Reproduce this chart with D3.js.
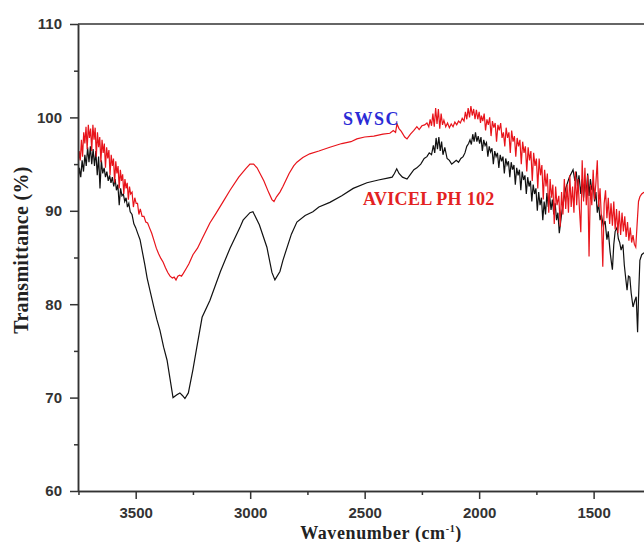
<!DOCTYPE html>
<html>
<head>
<meta charset="utf-8">
<script src="https://cdn.jsdelivr.net/npm/d3@7"></script>
<style>
  body { margin: 0; background: #fff; }
  .tick text { font-family: "Liberation Sans", Arial, sans-serif; font-weight: bold; font-size: 15px; fill: #333; }
  .axis path, .axis line { stroke: #333; stroke-width: 1.5; }
  .title { font-family: "Liberation Serif", "Times New Roman", serif; font-weight: bold; fill: #222; }
</style>
</head>
<body>
<div id="chart"></div>
<script>
// tick values
const xTicks = [3500, 3000, 2500, 2000, 1500];
const xMinorTicks = [3750, 3250, 2750, 2250, 1750];
const yTicks = [60, 70, 80, 90, 100, 110];
const yMinorTicks = [65, 75, 85, 95, 105];

// series labels
const seriesNames = ['SWSC', 'AVICEL PH 102'];

// [wavenumber, transmittance], upper (red) trace
const swscSpectrum = [
  [3752, 94.6], [3747, 96.4], [3742, 95.4], [3737, 97.6], [3732, 95.8], [3727, 98.4], [3722, 97.2], [3717, 99.0],
  [3712, 96.6], [3707, 99.2], [3702, 97.8], [3697, 98.8], [3692, 96.4], [3687, 99.2], [3682, 97.6], [3677, 98.9],
  [3672, 95.8], [3667, 98.4], [3662, 96.8], [3657, 97.9], [3652, 95.2], [3647, 97.6], [3642, 96.2], [3637, 97.2],
  [3632, 94.6], [3627, 96.8], [3622, 95.6], [3617, 96.5], [3612, 93.8], [3607, 96.0], [3602, 94.8], [3597, 95.6],
  [3592, 93.0], [3587, 95.3], [3582, 94.0], [3577, 94.8], [3572, 92.4], [3567, 94.4], [3562, 93.2], [3557, 93.9],
  [3552, 91.8], [3547, 93.4], [3542, 92.4], [3537, 93.0], [3532, 91.2], [3527, 92.6], [3522, 91.8], [3516, 92.0],
  [3510, 90.4], [3504, 91.4], [3498, 90.8], [3492, 90.8], [3486, 89.6], [3480, 90.2], [3472, 89.4], [3464, 89.4],
  [3456, 88.8], [3448, 88.7], [3440, 88.2], [3430, 87.6], [3420, 86.8], [3410, 86.0], [3400, 85.4], [3390, 84.9],
  [3380, 84.5], [3370, 83.9], [3360, 83.4], [3350, 83.0], [3340, 82.8], [3332, 82.9], [3324, 82.6], [3316, 83.0],
  [3308, 83.1], [3300, 83.0], [3292, 83.3], [3280, 83.8], [3268, 84.3], [3250, 85.3], [3230, 86.0], [3210, 87.0],
  [3176, 88.7], [3150, 89.7], [3120, 90.9], [3088, 92.2], [3050, 93.6], [3020, 94.5], [3001, 95.0], [2985, 95.0],
  [2970, 94.6], [2957, 94.0], [2940, 93.2], [2920, 92.0], [2905, 91.2], [2896, 91.0], [2885, 91.5], [2870, 92.0],
  [2857, 92.6], [2830, 94.0], [2810, 94.8], [2796, 95.2], [2770, 95.7], [2740, 96.1], [2700, 96.4], [2652, 96.8],
  [2600, 97.2], [2560, 97.4], [2534, 97.7], [2500, 97.9], [2460, 98.0], [2420, 98.2], [2390, 98.3], [2375, 98.6],
  [2365, 98.4], [2359, 99.3], [2350, 98.8], [2340, 98.5], [2325, 97.9], [2315, 97.7], [2300, 98.2], [2285, 98.6],
  [2272, 99.0], [2262, 98.7], [2250, 99.1], [2238, 99.2], [2228, 99.4], [2220, 99.0], [2214, 99.8], [2208, 99.1],
  [2202, 100.4], [2196, 99.0], [2190, 101.0], [2184, 99.3], [2178, 100.9], [2172, 98.8], [2166, 100.4], [2160, 99.2],
  [2154, 99.7], [2146, 99.0], [2138, 99.4], [2130, 98.9], [2122, 99.3], [2114, 99.0], [2106, 99.5], [2098, 99.2],
  [2090, 99.6], [2082, 99.4], [2074, 99.9], [2066, 99.6], [2060, 100.6], [2054, 99.8], [2048, 101.0], [2042, 100.0],
  [2036, 101.2], [2030, 100.2], [2024, 100.9], [2018, 99.8], [2012, 100.8], [2006, 99.8], [2000, 100.6], [1994, 99.4],
  [1990, 100.2], [1984, 99.6], [1978, 100.4], [1972, 98.6], [1966, 99.8], [1960, 99.2], [1954, 100.0], [1948, 98.0],
  [1942, 99.6], [1936, 98.9], [1930, 99.4], [1924, 97.4], [1918, 99.2], [1912, 98.6], [1906, 99.4], [1900, 97.8],
  [1894, 98.4], [1888, 96.9], [1882, 98.9], [1876, 97.8], [1870, 98.4], [1864, 96.2], [1858, 98.6], [1852, 97.4],
  [1846, 98.0], [1840, 95.8], [1834, 97.8], [1828, 96.9], [1822, 97.6], [1816, 95.0], [1810, 97.4], [1804, 96.2],
  [1798, 96.9], [1792, 94.2], [1786, 96.8], [1780, 95.4], [1774, 96.4], [1768, 93.2], [1762, 96.2], [1756, 94.8],
  [1750, 95.6], [1744, 92.4], [1738, 95.6], [1732, 93.8], [1726, 94.9], [1720, 91.2], [1714, 94.4], [1708, 92.6],
  [1702, 94.0], [1696, 89.8], [1690, 93.4], [1684, 91.4], [1678, 92.8], [1672, 88.6], [1666, 92.6], [1660, 90.6],
  [1652, 91.6], [1646, 88.3], [1640, 92.0], [1634, 89.6], [1628, 93.4], [1622, 90.2], [1616, 92.8], [1610, 89.8],
  [1604, 93.8], [1598, 90.4], [1592, 92.6], [1586, 89.8], [1580, 94.2], [1574, 90.6], [1568, 93.4], [1562, 90.2],
  [1556, 87.7], [1550, 95.4], [1544, 91.0], [1538, 94.6], [1532, 90.6], [1526, 93.8], [1520, 85.1], [1514, 92.8],
  [1508, 90.6], [1502, 94.4], [1496, 91.2], [1490, 93.0], [1484, 95.4], [1478, 90.4], [1472, 92.4], [1466, 89.2],
  [1460, 84.0], [1454, 90.8], [1448, 92.2], [1442, 89.2], [1436, 91.4], [1430, 88.6], [1424, 90.8], [1418, 88.4],
  [1412, 91.0], [1406, 88.0], [1400, 90.2], [1394, 87.6], [1388, 90.0], [1382, 87.4], [1376, 89.8], [1370, 87.8],
  [1364, 89.4], [1358, 87.2], [1352, 88.8], [1346, 86.8], [1340, 88.2], [1334, 86.6], [1328, 87.4], [1322, 86.4],
  [1316, 86.1], [1310, 88.6], [1304, 91.0], [1298, 91.5], [1290, 91.8], [1280, 92.0]
];

// lower (black) trace
const avicelSpectrum = [
  [3752, 93.0], [3746, 94.6], [3740, 93.6], [3734, 95.4], [3728, 94.2], [3722, 96.0], [3716, 94.8], [3710, 96.8],
  [3704, 95.2], [3698, 96.9], [3692, 95.0], [3686, 96.6], [3680, 94.8], [3674, 96.4], [3668, 93.8], [3662, 95.8],
  [3656, 92.4], [3650, 95.4], [3644, 94.0], [3638, 94.6], [3632, 93.6], [3626, 94.2], [3620, 93.2], [3614, 93.8],
  [3608, 93.0], [3602, 93.6], [3596, 92.6], [3590, 93.4], [3584, 92.2], [3578, 92.8], [3572, 90.6], [3566, 92.4],
  [3560, 91.6], [3554, 91.8], [3548, 91.0], [3542, 91.4], [3536, 90.4], [3530, 90.8], [3524, 89.9], [3516, 89.6],
  [3508, 88.6], [3500, 88.2], [3490, 87.5], [3481, 86.9], [3470, 85.5], [3460, 84.2], [3450, 82.8], [3438, 81.5],
  [3420, 79.6], [3408, 78.4], [3394, 77.2], [3378, 75.4], [3363, 74.0], [3350, 72.0], [3337, 70.0], [3320, 70.3],
  [3307, 70.5], [3295, 70.2], [3285, 69.9], [3270, 70.5], [3250, 73.0], [3233, 75.4], [3210, 78.6], [3176, 80.4],
  [3130, 83.5], [3088, 86.0], [3045, 88.2], [3031, 89.0], [3001, 89.8], [2988, 89.9], [2960, 88.5], [2927, 86.1],
  [2905, 83.4], [2892, 82.6], [2870, 83.5], [2857, 84.7], [2820, 87.5], [2796, 88.8], [2760, 89.5], [2726, 89.9],
  [2700, 90.4], [2652, 90.9], [2600, 91.6], [2550, 92.4], [2490, 93.0], [2440, 93.3], [2400, 93.5], [2380, 93.6],
  [2370, 94.0], [2360, 94.5], [2350, 94.0], [2335, 93.6], [2315, 93.4], [2300, 93.9], [2285, 94.4], [2272, 94.6],
  [2255, 95.0], [2240, 95.6], [2228, 95.8], [2218, 96.2], [2208, 96.0], [2200, 97.0], [2194, 96.2], [2188, 97.8],
  [2182, 96.6], [2176, 97.9], [2170, 96.4], [2164, 97.4], [2158, 96.0], [2150, 96.8], [2140, 95.6], [2130, 95.4],
  [2120, 95.0], [2110, 95.2], [2100, 95.4], [2090, 95.2], [2080, 95.6], [2070, 95.8], [2062, 96.2], [2054, 96.9],
  [2046, 97.2], [2040, 97.6], [2034, 97.1], [2028, 98.2], [2022, 97.4], [2016, 98.4], [2010, 97.4], [2004, 98.0],
  [1998, 97.2], [1992, 97.9], [1986, 96.4], [1980, 97.6], [1974, 97.0], [1968, 97.3], [1962, 95.8], [1956, 96.9],
  [1950, 96.3], [1944, 96.7], [1938, 95.0], [1932, 96.4], [1926, 95.8], [1920, 96.2], [1914, 94.6], [1908, 96.0],
  [1902, 95.3], [1896, 95.8], [1890, 94.0], [1884, 95.6], [1878, 94.9], [1872, 95.3], [1866, 93.6], [1860, 95.2],
  [1854, 94.4], [1848, 94.9], [1842, 92.8], [1836, 94.6], [1830, 93.8], [1824, 94.4], [1818, 92.2], [1812, 94.2],
  [1806, 93.3], [1800, 93.8], [1794, 91.8], [1788, 93.6], [1782, 92.6], [1776, 93.2], [1770, 91.0], [1764, 92.8],
  [1758, 91.8], [1752, 92.4], [1746, 90.0], [1740, 92.0], [1734, 90.6], [1728, 91.4], [1722, 89.0], [1716, 91.0],
  [1710, 89.6], [1704, 91.9], [1698, 90.4], [1692, 91.6], [1686, 90.1], [1680, 91.2], [1674, 89.6], [1668, 90.8],
  [1662, 89.0], [1656, 89.8], [1650, 87.6], [1644, 88.8], [1638, 90.0], [1630, 91.2], [1622, 92.4], [1614, 93.0],
  [1606, 93.6], [1598, 94.0], [1590, 94.4], [1582, 93.2], [1576, 94.2], [1570, 92.6], [1564, 93.8], [1556, 91.8],
  [1550, 93.4], [1544, 91.4], [1538, 93.2], [1532, 92.0], [1526, 94.0], [1520, 91.6], [1514, 93.4], [1508, 92.2],
  [1502, 93.0], [1496, 91.0], [1490, 92.0], [1484, 89.8], [1478, 90.8], [1472, 89.0], [1466, 89.6], [1458, 88.4],
  [1450, 88.9], [1442, 86.9], [1436, 87.8], [1428, 85.6], [1422, 84.4], [1418, 83.7], [1412, 86.4], [1406, 87.8],
  [1398, 88.2], [1392, 87.0], [1386, 86.6], [1380, 85.8], [1372, 86.4], [1366, 84.2], [1360, 82.8], [1354, 81.5],
  [1348, 83.0], [1342, 82.9], [1336, 81.2], [1328, 79.7], [1320, 80.4], [1314, 80.8], [1308, 77.0], [1304, 80.6],
  [1298, 84.7], [1290, 85.3], [1280, 85.5]
];

const width = 644;
const height = 542;
const margin = { top: 24, right: 0, bottom: 51, left: 78 };

const x = d3.scaleLinear().domain([3752, 1280]).range([margin.left, width - margin.right]);
const y = d3.scaleLinear().domain([60, 110]).range([height - margin.bottom, margin.top]);

const svg = d3.select('#chart').append('svg')
  .attr('width', width)
  .attr('height', height);

svg.append('defs').append('clipPath')
  .attr('id', 'plot-clip')
  .append('rect')
  .attr('x', margin.left)
  .attr('y', margin.top)
  .attr('width', width - margin.left - margin.right)
  .attr('height', height - margin.top - margin.bottom);

const line = d3.line()
  .x(d => x(d[0]))
  .y(d => y(d[1]));

const plot = svg.append('g').attr('clip-path', 'url(#plot-clip)');

plot.append('path')
  .datum(avicelSpectrum)
  .attr('fill', 'none')
  .attr('stroke', '#111')
  .attr('stroke-width', 1.2)
  .attr('d', line);

plot.append('path')
  .datum(swscSpectrum)
  .attr('fill', 'none')
  .attr('stroke', '#e8141b')
  .attr('stroke-width', 1.2)
  .attr('d', line);

// x axis
svg.append('g')
  .attr('class', 'axis')
  .attr('transform', `translate(0, ${height - margin.bottom})`)
  .call(d3.axisBottom(x).tickValues(xMinorTicks).tickSize(4).tickSizeOuter(0).tickFormat(''));

svg.append('g')
  .attr('class', 'axis')
  .attr('transform', `translate(0, ${height - margin.bottom})`)
  .call(d3.axisBottom(x).tickValues(xTicks).tickSize(8).tickPadding(8).tickSizeOuter(0).tickFormat(d3.format('d')));

// y axis
svg.append('g')
  .attr('class', 'axis')
  .attr('transform', `translate(${margin.left}, 0)`)
  .call(d3.axisLeft(y).tickValues(yMinorTicks).tickSize(4).tickSizeOuter(0).tickFormat(''));

svg.append('g')
  .attr('class', 'axis')
  .attr('transform', `translate(${margin.left}, 0)`)
  .call(d3.axisLeft(y).tickValues(yTicks).tickSize(8).tickPadding(8).tickSizeOuter(0));

// top frame
svg.append('line')
  .attr('x1', margin.left).attr('x2', width)
  .attr('y1', y(110)).attr('y2', y(110))
  .attr('stroke', '#333')
  .attr('stroke-width', 1.5);

// axis titles
svg.append('text')
  .attr('class', 'title')
  .attr('transform', 'translate(28, 250) rotate(-90)')
  .attr('text-anchor', 'middle')
  .style('font-size', '20px')
  .style('letter-spacing', '0.3px')
  .text('Transmittance (%)');

const xTitle = svg.append('text')
  .attr('class', 'title')
  .attr('x', 381)
  .attr('y', 539)
  .attr('text-anchor', 'middle')
  .style('font-size', '18px')
  .style('letter-spacing', '0.6px');
xTitle.append('tspan').text('Wavenumber (cm');
xTitle.append('tspan').attr('dy', -7).style('font-size', '10px').text('-1');
xTitle.append('tspan').attr('dy', 7).text(')');

// series labels
svg.append('text')
  .attr('class', 'title')
  .attr('x', 343)
  .attr('y', 125)
  .style('font-size', '18px')
  .style('letter-spacing', '1.5px')
  .style('fill', '#2b2bd6')
  .text(seriesNames[0]);

svg.append('text')
  .attr('class', 'title')
  .attr('x', 363)
  .attr('y', 205)
  .style('font-size', '18px')
  .style('letter-spacing', '0.3px')
  .style('fill', '#e32222')
  .text(seriesNames[1]);
</script>
</body>
</html>
